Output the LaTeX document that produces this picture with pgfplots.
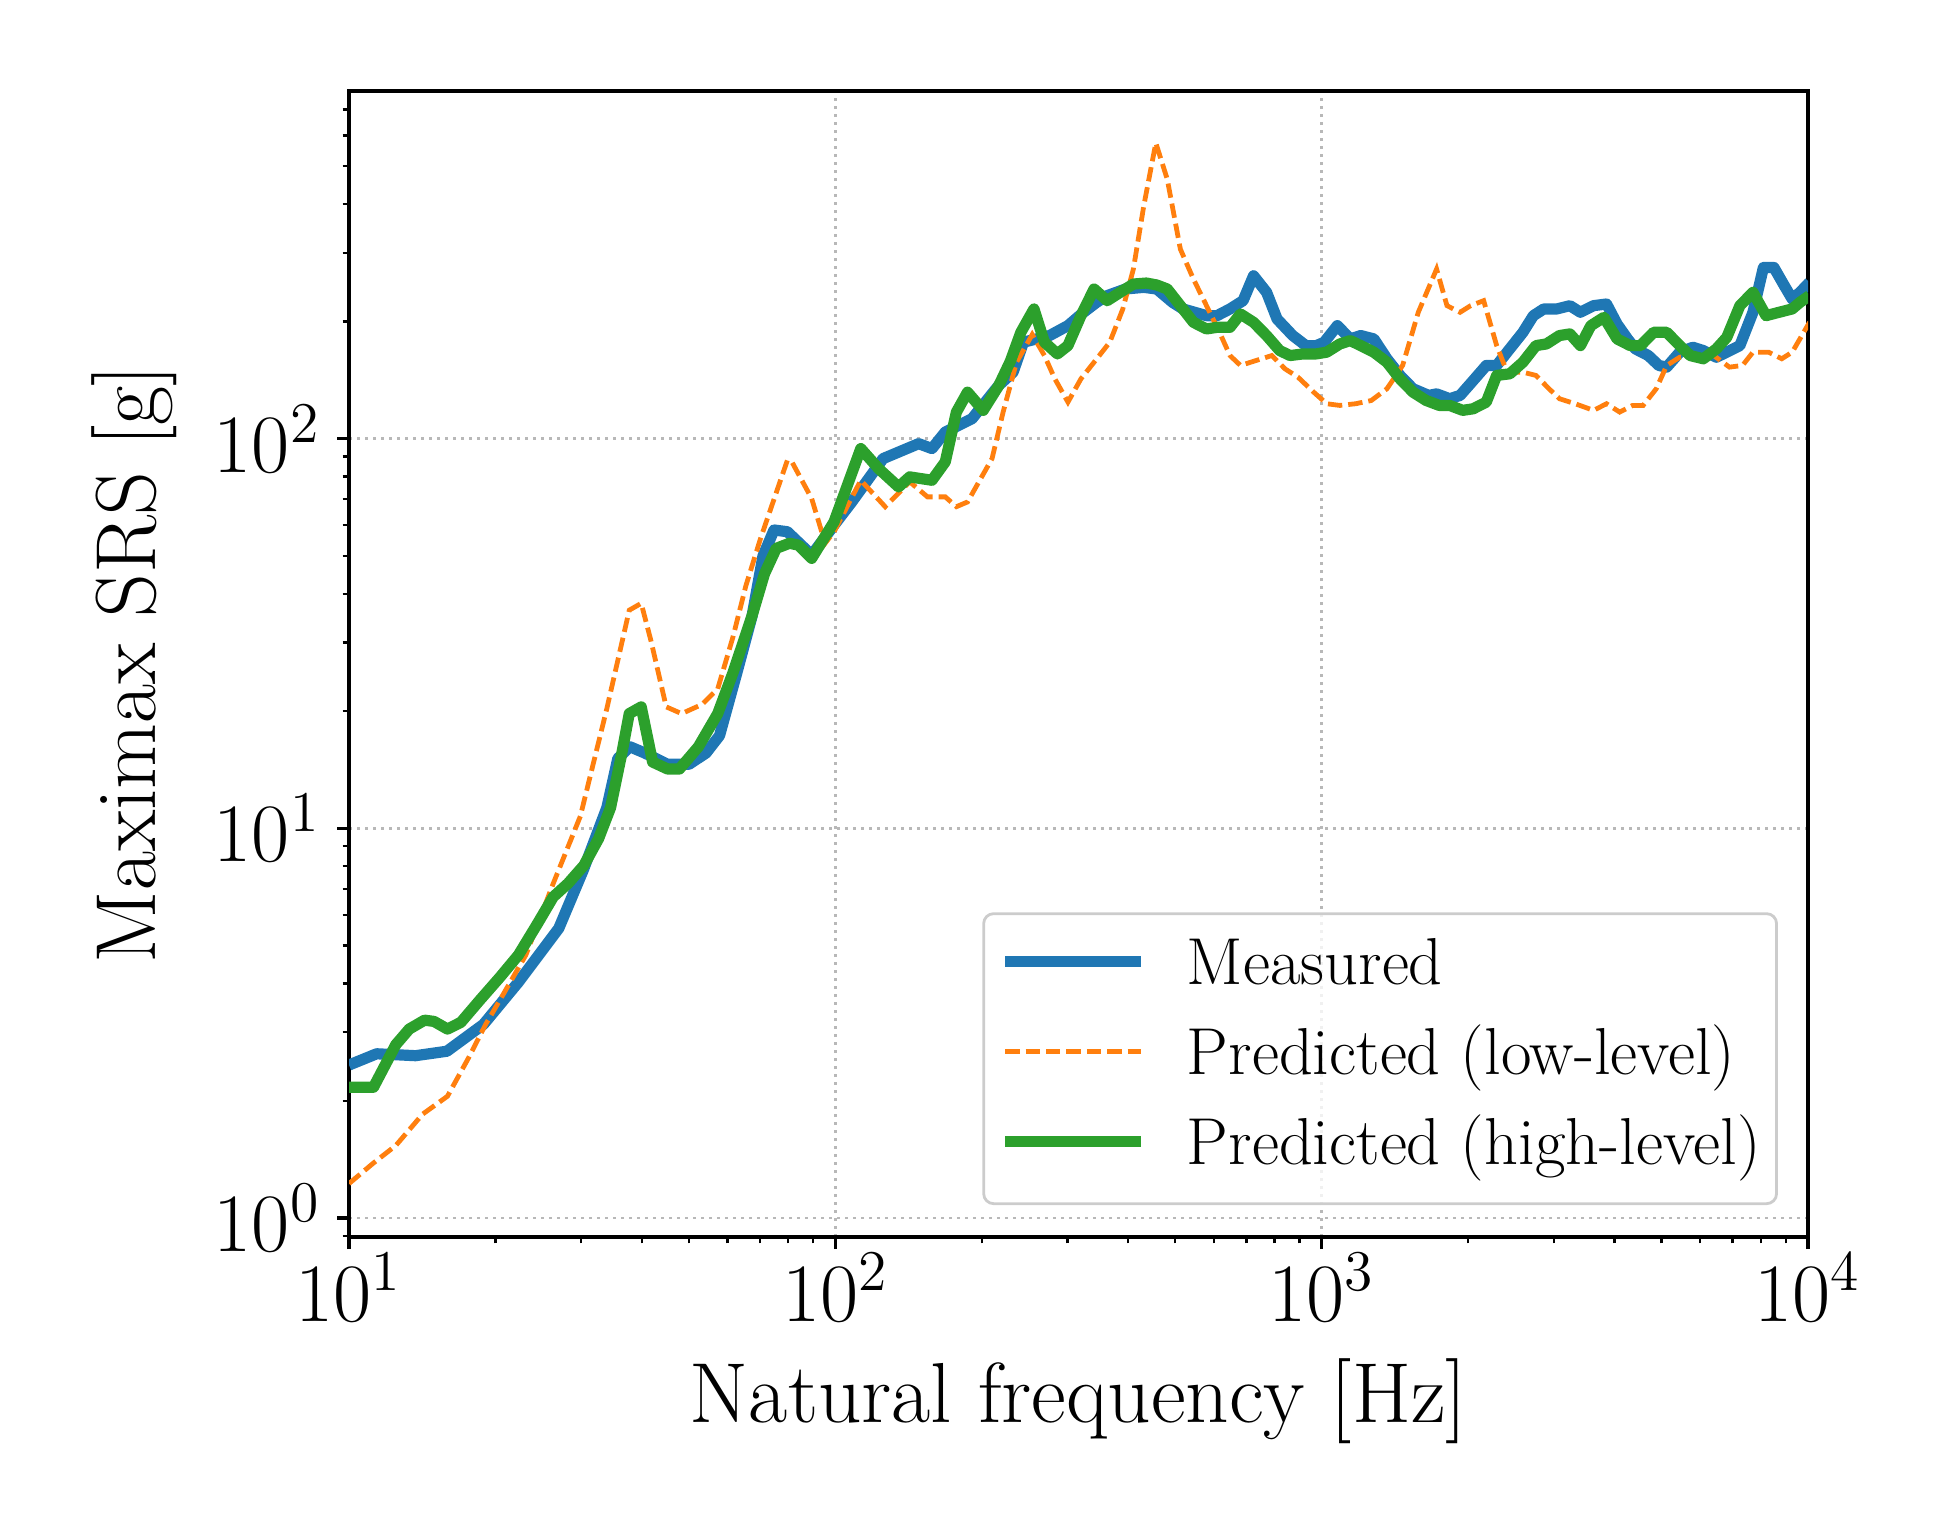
\documentclass[border=0pt]{standalone}
\usepackage{pgfplots}
\pgfplotsset{compat=1.18}
\definecolor{mblue}{HTML}{1F77B4}
\definecolor{morange}{HTML}{FF7F0E}
\definecolor{mgreen}{HTML}{2CA02C}
\begin{document}
\begin{tikzpicture}
\begin{axis}[
  scale only axis, width=364.75pt, height=286.5pt,
  xmode=log, ymode=log,
  xmin=10, xmax=10000, ymin=0.894, ymax=780,
  axis line style={line width=0.9pt},
  tick align=outside, xtick pos=bottom, ytick pos=left,
  major tick length=3pt, minor tick length=1.6pt,
  every tick/.append style={black, line width=0.8pt},
  every minor tick/.append style={black, line width=0.6pt},
  grid=major,
  major grid style={black!28, line width=0.65pt, dash pattern=on 0.65pt off 1.35pt},
  tick label style={font=\fontsize{21}{25}\selectfont},
  xticklabel style={inner sep=0pt, yshift=-1pt},
  yticklabel style={inner sep=0pt, xshift=-4pt},
  xlabel={Natural frequency [Hz]}, ylabel={Maximax SRS [g]},
  label style={font=\fontsize{21.3}{25}\selectfont},
  xlabel style={at={(axis description cs:0.5,-0.162)}, anchor=base},
  ylabel style={at={(axis description cs:-0.1323,0.5)}, anchor=base},
  legend image code/.code={\draw[#1] (0pt,1.75pt) -- (34pt,1.75pt); \path (44pt,0pt);},
  legend cell align=left,
  legend style={at={(0.9794,0.0279)}, anchor=south east,
    draw=black!20, line width=0.7pt, rounded corners=2.5pt,
    fill=white, fill opacity=0.8, text opacity=1, draw opacity=1,
    font=\fontsize{16.6}{19}\selectfont,
    inner xsep=4pt, inner ysep=6.25pt, row sep=7.5pt,
    nodes={inner sep=0pt, text height=11.5pt, text depth=3.5pt}},
]
\addplot[mblue, line width=2.8pt, line join=round] coordinates {
(10,2.47)(11.4,2.64)(13.7,2.61)(15.9,2.68)(18.9,3.14)(22.3,4.03)(27.0,5.54)(30.3,7.8)(33.9,11.3)(35.7,15.1)(37.8,16.2)(40.6,15.6)(45.2,14.6)(50,14.6)(54.2,15.6)(57.8,17.3)(62.7,25)(67.4,35)(71,50)(74.8,58.3)(79.7,57.7)(89.4,50.3)(99.4,60)(108.1,68.8)(125.4,88.9)(148.4,97.1)(158,94.3)(168.3,104)(191,112.5)(216.8,137)(232,148.1)(243.7,176.8)(275.8,183.9)(300.8,195)(323.9,211)(344.6,223.8)(362.2,232.8)(395,242.1)(430.7,244.5)(458.1,242.1)(493.5,223.8)(518.6,215.2)(579.7,206.8)(609.2,206.8)(647.8,215.2)(689.3,226)(724.3,261.8)(770.5,237.4)(809.6,202.8)(872,183.9)(927.9,173.3)(975,173.3)(1012,176.8)(1077,195)(1145,180.3)(1203,183.9)(1280,180.3)(1362,160.3)(1449,145.3)(1541,134.3)(1660,129.1)(1723,130.3)(1833,126.6)(1926,129.1)(2049,141)(2180,154.1)(2290,154.1)(2406,166.7)(2593,187.5)(2724,206.8)(2862,215.2)(3045,215.2)(3239,219.4)(3404,211)(3622,219.4)(3853,221.6)(4049,196.9)(4255,180.3)(4415,170)(4695,163.4)(4935,154.1)(5122,152.6)(5449,166.7)(5797,171.6)(6092,168.3)(6480,161.8)(6808,166.7)(7243,173.3)(7705,211)(8096,275)(8507,275)(8939,246.9)(9278,228.2)(9627,237.4)(10070,251.8)
};
\addlegendentry{Measured}
\addplot[morange, line width=1.2pt, dash pattern=on 3.6pt off 1.5pt] coordinates {
(10,1.226)(11.2,1.381)(12.48,1.535)(14.17,1.848)(15.94,2.054)(17.6,2.572)(19.1,3.14)(20.7,3.73)(23.1,4.73)(26.3,7.22)(29.9,10.74)(33.9,20.3)(37.7,36.3)(39.9,37.8)(41.8,30.2)(44.9,20.5)(48.3,19.7)(53.2,20.8)(57.3,22.8)(61.6,31)(65.5,42)(70.2,55.5)(79.7,88)(81.4,87.2)(89.4,70.2)(95.3,53.9)(99.4,57.7)(112.8,78.2)(126.6,66.9)(142.2,77.5)(154.7,70.9)(168.3,70.9)(177.4,66.9)(187,68.8)(210,88.9)(221.3,117)(235.8,157)(254,185)(269.1,163.4)(282.7,142.4)(300.8,124.1)(319.9,142.4)(340.4,157.1)(366.7,176.8)(390.1,215.2)(410,272.3)(430.7,395.6)(456,574)(481.4,463)(512.2,306.4)(544.9,256.7)(579.7,219.4)(616.6,187.5)(647.8,163.4)(680.8,154.1)(733.3,158.7)(789.8,163.4)(840.2,151.1)(893.9,143.8)(963,131.6)(1024,122.9)(1090,121.7)(1174,122.9)(1265,125.3)(1362,134.3)(1467,154.1)(1580,211)(1723,272.3)(1810,219.4)(1926,211)(2024,219.4)(2153,226)(2290,173.3)(2406,148.1)(2593,148.1)(2758,145.3)(2934,134.3)(3083,126.6)(3321,122.9)(3622,118.2)(3853,122.9)(4100,117)(4360,121.7)(4581,121.7)(4875,134.3)(5122,154.1)(5449,161.8)(5869,163.4)(6401,163.4)(6893,152.6)(7333,154.1)(7705,166.7)(8298,166.7)(8829,160.3)(9278,166.7)(10070,198.9)
};
\addlegendentry{Predicted (low-level)}
\addplot[mgreen, line width=2.8pt, line join=round] coordinates {
(10,2.166)(11.23,2.166)(12.48,2.785)(13.3,3.055)(14.3,3.22)(14.96,3.196)(15.94,3.055)(16.99,3.18)(18.6,3.63)(20.4,4.14)(22.3,4.73)(24.4,5.69)(26.3,6.67)(28.2,7.22)(30.4,8.03)(32.6,9.41)(34.5,11.3)(36.4,15.6)(37.7,19.7)(39.9,20.5)(42.1,14.8)(45.2,14.2)(47.8,14.2)(52.3,16.2)(57.3,19.7)(61.6,25.1)(67.5,35.3)(71.5,45)(75.6,52.3)(80.5,53.9)(84,53.3)(89.4,49.3)(99.4,61.2)(105.9,76)(112.8,94.3)(122.7,83.8)(134.9,75.2)(142.2,79.8)(158,78.2)(168.3,87.2)(177.4,117)(187,131.6)(201.4,118.2)(216.8,136.9)(229,158)(240.7,187.5)(256.1,215.2)(269.1,176.8)(286.2,165)(300.8,173.3)(319.9,206.8)(340.4,242.1)(362.2,226)(385.3,237.4)(410,249.3)(436.1,250.8)(458.1,247.9)(481.4,242.1)(512.2,219.4)(544.9,198.9)(579.7,191.2)(609.2,193.1)(647.8,193.1)(680.8,208.9)(724.3,198.9)(770.5,183.9)(819.7,168.3)(861.2,163.4)(916.4,165)(975,165)(1024,166.7)(1090,175)(1145,178.5)(1203,173.3)(1280,166.7)(1362,157.1)(1449,142.4)(1541,131.6)(1640,125.3)(1745,121.7)(1833,121.7)(1950,118.2)(2049,119.3)(2180,124.1)(2290,145.3)(2437,146.7)(2593,157.1)(2758,173.3)(2898,175)(3083,183.9)(3239,185.7)(3404,173.3)(3577,195)(3806,204.8)(4049,180.3)(4308,173.3)(4525,173.3)(4814,187.5)(5122,187.5)(5449,173.3)(5726,163.4)(6092,160.3)(6480,170)(6808,182)(7243,219.4)(7705,237.4)(8197,206.8)(8720,211)(9278,215.2)(9627,223.8)(10070,232.8)
};
\addlegendentry{Predicted (high-level)}
\coordinate (BL) at (rel axis cs:0,0);
\coordinate (TR) at (rel axis cs:1,1);
\end{axis}
\pgfresetboundingbox
\path[use as bounding box] ([xshift=-87.25pt,yshift=-74.75pt]BL) rectangle ([xshift=36.75pt,yshift=22.75pt]TR);
\end{tikzpicture}
\end{document}
